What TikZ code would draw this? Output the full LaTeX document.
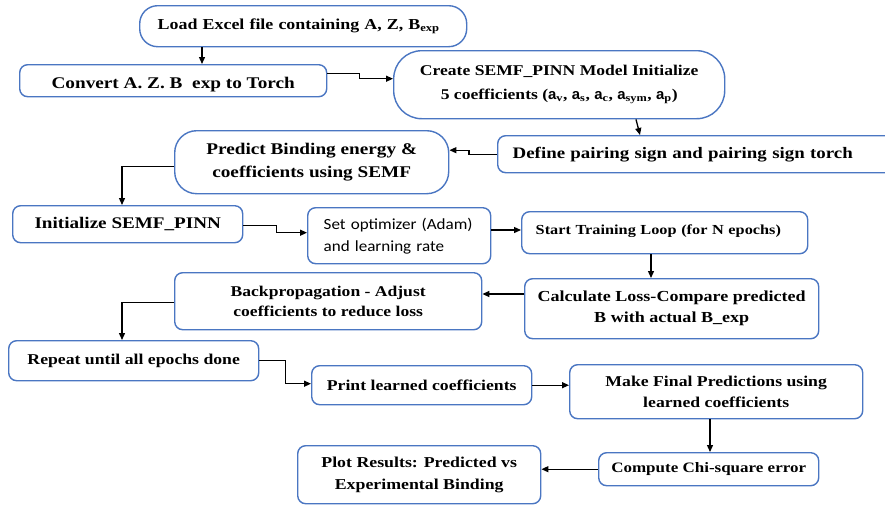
\documentclass[tikz,border=0pt]{standalone}
\usepackage{fontspec}
\setmainfont{Liberation Serif}[FakeStretch=1.18]
\newfontfamily\califont{Carlito}[FakeStretch=1.1]
\newfontfamily\asans{Liberation Sans}
\usetikzlibrary{arrows.meta}
\definecolor{boxblue}{HTML}{4A76C2}
\begin{document}
\begin{tikzpicture}[x=1pt,y=-1pt,
  box/.style={draw=boxblue, line width=1.4pt, rounded corners=8pt, anchor=north west,
    inner sep=0pt, align=center, fill=white},
  arr/.style={draw=black, line width=1.3pt, -{Triangle[length=7pt,width=6pt]}},
]
\useasboundingbox (0,0) rectangle (885,506);
\fill[white] (0,0) rectangle (885,506);

\node[box, rounded corners=18pt, text width=291pt, align=left, inner xsep=18pt, minimum height=41pt,
  font=\fontsize{15.2}{17}\selectfont\bfseries] (load) at (139,5)
  {Load Excel file containing A, Z, B\textsubscript{exp}};
\node[box, minimum width=307pt, minimum height=32pt,
  font=\fontsize{16.3}{20}\selectfont\bfseries] (conv) at (19,64)
  {\raisebox{-3.5pt}[\height][\depth]{Convert A. Z. B\hspace{0.6em}exp to Torch}};
\node[box, rounded corners=28pt, minimum width=331pt, minimum height=68pt,
  font=\fontsize{14.9}{24}\selectfont\bfseries] (create) at (393,50)
  {Create SEMF\_PINN Model Initialize\\5 coefficients ({\asans a}\textsubscript{v}, {\asans a}\textsubscript{s}, {\asans a}\textsubscript{c}, {\asans a}\textsubscript{sym}, {\asans a}\textsubscript{p})};
\node[box, text width=370pt, align=left, inner xsep=15pt, minimum height=37pt,
  font=\fontsize{16}{19}\selectfont\bfseries] (define) at (497,135)
  {Define pairing sign and pairing sign torch};
\node[box, rounded corners=22pt, minimum width=274pt, minimum height=63pt,
  font=\fontsize{16.3}{23}\selectfont\bfseries] (predict) at (174,130)
  {Predict Binding energy \&\\coefficients using SEMF};
\node[box, minimum width=230pt, minimum height=37pt,
  font=\fontsize{16.2}{19}\selectfont\bfseries] (init) at (12,205)
  {Initialize SEMF\_PINN};
\node[box, text width=151pt, align=left, inner xsep=16pt, minimum height=56pt,
  font=\fontsize{15.5}{22}\selectfont\califont] (setopt) at (307,207)
  {Set optimizer (Adam)\\and learning rate};
\node[box, text width=258pt, align=left, inner xsep=14pt, minimum height=42pt,
  font=\fontsize{13.8}{16}\selectfont\bfseries] (start) at (521,211)
  {\raisebox{1.5pt}[\height][\depth]{Start Training Loop (for N epochs)}};
\node[box, minimum width=294pt, minimum height=60pt,
  font=\fontsize{15.3}{21}\selectfont\bfseries] (calc) at (524,278)
  {Calculate Loss-Compare predicted\\B with actual B\_exp};
\node[box, minimum width=307pt, minimum height=57pt,
  font=\fontsize{14.9}{20}\selectfont\bfseries] (bp) at (174,272)
  {Backpropagation - Adjust\\coefficients to reduce loss};
\node[box, minimum width=250pt, minimum height=40pt,
  font=\fontsize{15}{17}\selectfont\bfseries] (rep) at (8,340)
  {Repeat until all epochs done};
\node[box, minimum width=220pt, minimum height=39pt,
  font=\fontsize{15}{17}\selectfont\bfseries] (print) at (311,365)
  {Print learned coefficients};
\node[box, minimum width=293pt, minimum height=54pt,
  font=\fontsize{15}{21}\selectfont\bfseries] (make) at (569,364)
  {Make Final Predictions using\\learned coefficients};
\node[box, minimum width=220pt, minimum height=33pt,
  font=\fontsize{14.4}{17}\selectfont\bfseries] (comp) at (598,452)
  {Compute Chi-square error};
\node[box, minimum width=243pt, minimum height=58pt,
  font=\fontsize{15.1}{22}\selectfont\bfseries] (plot) at (297,445)
  {Plot Results: Predicted vs\\Experimental Binding};

\draw[arr] (load.south -| 202,0) -- (conv.north -| 202,0);
\draw[arr] ([yshift=7pt]conv.east) -- ++(32,0) |- ([yshift=6pt]create.west);
\draw[arr] (create.south -| 636,0) -- (define.north -| 640,0);
\draw[arr] (define.west) -- ++(-28,0) |- ([yshift=12pt]predict.east);
\draw[arr] ([yshift=-4.5pt]predict.west) -| (init.north -| 122,0);
\draw[arr] ([yshift=-1.5pt]init.east) -- ++(33,0) |- ([yshift=3pt]setopt.west);
\draw[arr] (setopt.east |- 0,230) -- (start.west |- 0,230);
\draw[arr] (start.south -| 651,0) -- (calc.north -| 651,0);
\draw[arr] (calc.west |- 0,294) -- (bp.east |- 0,294);
\draw[arr] ([yshift=-1.5pt]bp.west) -| (rep.north -| 122,0);
\draw[arr] (rep.east) -- ++(26,0) |- ([yshift=1.5pt]print.west);
\draw[arr] (print.east) -- (print.east -| make.west);
\draw[arr] (make.south -| 710,0) -- (comp.north -| 710,0);
\draw[arr] (comp.west) -- (comp.west -| plot.east);
\end{tikzpicture}
\end{document}
